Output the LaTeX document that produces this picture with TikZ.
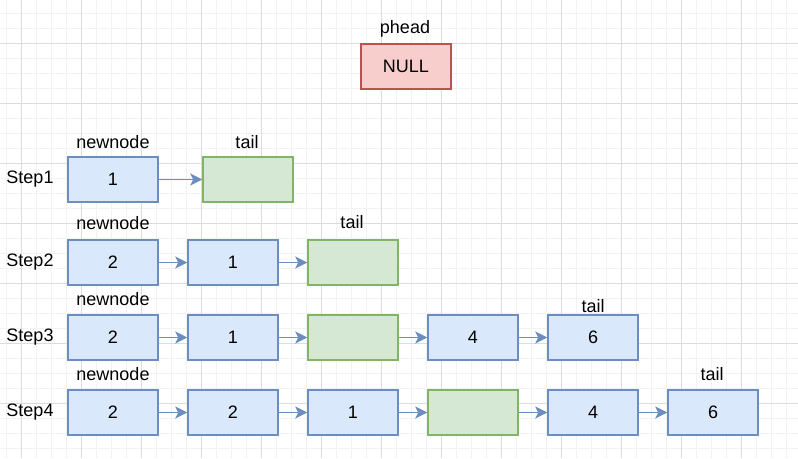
\documentclass[tikz,border=0pt]{standalone}
\usepackage{fontspec}
\setmainfont{Liberation Sans}
\usetikzlibrary{arrows.meta}
\definecolor{bfill}{HTML}{DAE8FC}
\definecolor{bline}{HTML}{6C8EBF}
\definecolor{gfill}{HTML}{D5E8D4}
\definecolor{gline}{HTML}{82B366}
\definecolor{rfill}{HTML}{F8CECC}
\definecolor{rline}{HTML}{B85450}
\definecolor{gridmaj}{HTML}{DCDCDC}
\definecolor{gridmin}{HTML}{F2F2F2}
\tikzset{
  cell/.style={draw=bline,fill=bfill,line width=1.5pt,minimum width=90pt,minimum height=45pt,inner sep=0pt,font=\fontsize{18}{21}\selectfont},
  tcell/.style={cell,draw=gline,fill=gfill},
  rcell/.style={cell,draw=rline,fill=rfill},
  lbl/.style={inner sep=0pt,font=\fontsize{18}{21}\selectfont},
  link/.style={draw=bline,line width=1.5pt,-{Stealth[length=12pt,width=12pt,inset=3pt]}},
}
\begin{document}
\begin{tikzpicture}[x=1pt,y=-1pt]
\useasboundingbox (0,0) rectangle (798,458);
\fill[white] (0,0) rectangle (798,458);
% grid
\foreach \x in {6,21,...,798} \draw[gridmin,line width=0.8pt] (\x,0) -- (\x,458);
\foreach \y in {13,28,...,458} \draw[gridmin,line width=0.8pt] (0,\y) -- (798,\y);
\foreach \x in {21,81,...,798} \draw[gridmaj,line width=0.8pt] (\x,0) -- (\x,458);
\foreach \y in {43,103,...,458} \draw[gridmaj,line width=0.8pt] (0,\y) -- (798,\y);

% phead
\node[lbl] (phead) at (405,29) {phead};
\node[rcell] (null) at (406,66.5) {NULL};

% Step1
\node[lbl] (s1) at (30,179.5) {Step1};
\node[cell] (a1) at (113,179.5) {1};
\node[tcell] (a2) at (248,179.5) {};
\node[lbl] (nn1) at (113,142) {newnode};
\node[lbl] (t1) at (247,142) {tail};
\draw[link] (a1) -- (a2);

% Step2
\node[lbl] (s2) at (30,262.5) {Step2};
\node[cell] (b1) at (113,262.5) {2};
\node[cell] (b2) at (233,262.5) {1};
\node[tcell] (b3) at (353,262.5) {};
\node[lbl] (nn2) at (113,223) {newnode};
\node[lbl] (t2) at (352,222) {tail};
\draw[link] (b1) -- (b2);
\draw[link] (b2) -- (b3);

% Step3
\node[lbl] (s3) at (30,337.5) {Step3};
\node[cell] (c1) at (113,337.5) {2};
\node[cell] (c2) at (233,337.5) {1};
\node[tcell] (c3) at (353,337.5) {};
\node[cell] (c4) at (473,337.5) {4};
\node[cell] (c5) at (593,337.5) {6};
\node[lbl] (nn3) at (113,299) {newnode};
\node[lbl] (t3) at (593,306) {tail};
\draw[link] (c1) -- (c2);
\draw[link] (c2) -- (c3);
\draw[link] (c3) -- (c4);
\draw[link] (c4) -- (c5);

% Step4
\node[lbl] (s4) at (30,412.5) {Step4};
\node[cell] (d1) at (113,412.5) {2};
\node[cell] (d2) at (233,412.5) {2};
\node[cell] (d3) at (353,412.5) {1};
\node[tcell] (d4) at (473,412.5) {};
\node[cell] (d5) at (593,412.5) {4};
\node[cell] (d6) at (713,412.5) {6};
\node[lbl] (nn4) at (113,374) {newnode};
\node[lbl] (t4) at (712,374) {tail};
\draw[link] (d1) -- (d2);
\draw[link] (d2) -- (d3);
\draw[link] (d3) -- (d4);
\draw[link] (d4) -- (d5);
\draw[link] (d5) -- (d6);
\end{tikzpicture}
\end{document}
